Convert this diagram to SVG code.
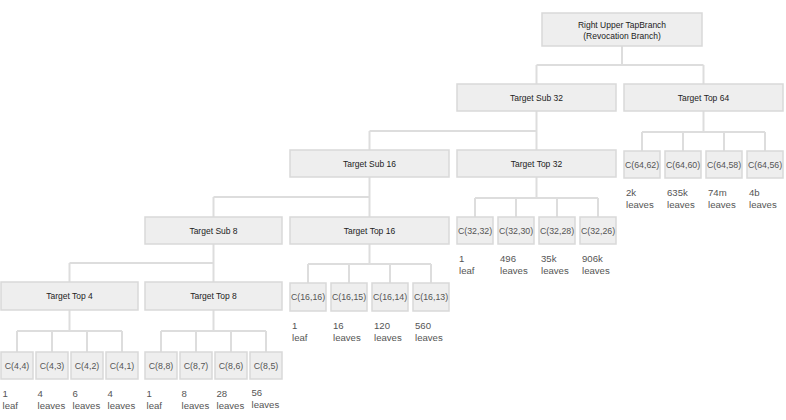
<svg xmlns="http://www.w3.org/2000/svg" width="786" height="420" viewBox="0 0 786 420">
<style>
.n rect{fill:#eeeeee;stroke:#d9d9d9;stroke-width:1.5}
.h{font-family:"Liberation Sans",Arial,sans-serif;font-size:8.5px;fill:#222;text-anchor:middle}
.c{font-family:"Liberation Sans",Arial,sans-serif;font-size:8.8px;fill:#555;text-anchor:middle}
.l{font-family:"Liberation Sans",Arial,sans-serif;font-size:9.6px;fill:#555}
#connectors path{fill:none;stroke:#dddddd;stroke-width:2}
</style>
<rect width="786" height="420" fill="#ffffff"/>
<g id="connectors">
<path d="M622 46V65M536.5 65H703.5M536.5 65V84M703.5 65V84"/>
<path d="M536.5 111V131M369.5 131H536.5M369.5 131V150M536.5 131V150"/>
<path d="M703.5 111V132M642 132H765M642 132V151M683 132V151M724 132V151M765 132V151"/>
<path d="M536.5 177V198M475 198H598M475 198V217M516 198V217M557 198V217M598 198V217"/>
<path d="M369.5 177V197M213.5 197H369.5M213.5 197V217M369.5 197V217"/>
<path d="M369.5 244V264M308 264H431M308 264V283M349 264V283M390 264V283M431 264V283"/>
<path d="M213.5 244V263M69.5 263H213.5M69.5 263V282M213.5 263V282"/>
<path d="M69.5 310V331M17 331H122M17 331V352M52 331V352M87 331V352M122 331V352"/>
<path d="M213.5 310V331M161 331H266M161 331V352M196 331V352M231 331V352M266 331V352"/>
</g>
<g id="root" class="n"><rect x="542" y="13" width="160" height="33"/><text class="h" x="622" y="27.5">Right Upper TapBranch</text><text class="h" x="622" y="38.5">(Revocation Branch)</text></g>
<g id="sub32" class="n"><rect x="457" y="84" width="159" height="27"/><text class="h" x="536.5" y="100.5">Target Sub 32</text></g>
<g id="top64" class="n"><rect x="624" y="84" width="159" height="27"/><text class="h" x="703.5" y="100.5">Target Top 64</text></g>
<g id="sub16" class="n"><rect x="290" y="150" width="159" height="27"/><text class="h" x="369.5" y="166.5">Target Sub 16</text></g>
<g id="top32" class="n"><rect x="457" y="150" width="159" height="27"/><text class="h" x="536.5" y="166.5">Target Top 32</text></g>
<g id="sub8" class="n"><rect x="145" y="217" width="137" height="27"/><text class="h" x="213.5" y="233.5">Target Sub 8</text></g>
<g id="top16" class="n"><rect x="290" y="217" width="159" height="27"/><text class="h" x="369.5" y="233.5">Target Top 16</text></g>
<g id="top4" class="n"><rect x="1" y="282" width="137" height="28"/><text class="h" x="69.5" y="299">Target Top 4</text></g>
<g id="top8" class="n"><rect x="145" y="282" width="137" height="28"/><text class="h" x="213.5" y="299">Target Top 8</text></g>

<g id="c64_62" class="n"><rect x="624" y="151" width="36" height="27"/><text class="c" x="642" y="167.5">C(64,62)</text><text class="l" x="626" y="195.5">2k</text><text class="l" x="626" y="207.5">leaves</text></g>
<g id="c64_60" class="n"><rect x="665" y="151" width="36" height="27"/><text class="c" x="683" y="167.5">C(64,60)</text><text class="l" x="667" y="195.5">635k</text><text class="l" x="667" y="207.5">leaves</text></g>
<g id="c64_58" class="n"><rect x="706" y="151" width="36" height="27"/><text class="c" x="724" y="167.5">C(64,58)</text><text class="l" x="708" y="195.5">74m</text><text class="l" x="708" y="207.5">leaves</text></g>
<g id="c64_56" class="n"><rect x="747" y="151" width="36" height="27"/><text class="c" x="765" y="167.5">C(64,56)</text><text class="l" x="749" y="195.5">4b</text><text class="l" x="749" y="207.5">leaves</text></g>

<g id="c32_32" class="n"><rect x="457" y="217" width="36" height="27"/><text class="c" x="475" y="233.5">C(32,32)</text><text class="l" x="459" y="261.5">1</text><text class="l" x="459" y="273.5">leaf</text></g>
<g id="c32_30" class="n"><rect x="498" y="217" width="36" height="27"/><text class="c" x="516" y="233.5">C(32,30)</text><text class="l" x="500" y="261.5">496</text><text class="l" x="500" y="273.5">leaves</text></g>
<g id="c32_28" class="n"><rect x="539" y="217" width="36" height="27"/><text class="c" x="557" y="233.5">C(32,28)</text><text class="l" x="541" y="261.5">35k</text><text class="l" x="541" y="273.5">leaves</text></g>
<g id="c32_26" class="n"><rect x="580" y="217" width="36" height="27"/><text class="c" x="598" y="233.5">C(32,26)</text><text class="l" x="582" y="261.5">906k</text><text class="l" x="582" y="273.5">leaves</text></g>

<g id="c16_16" class="n"><rect x="290" y="283" width="36" height="28"/><text class="c" x="308" y="300">C(16,16)</text><text class="l" x="292" y="328.5">1</text><text class="l" x="292" y="340.5">leaf</text></g>
<g id="c16_15" class="n"><rect x="331" y="283" width="36" height="28"/><text class="c" x="349" y="300">C(16,15)</text><text class="l" x="333" y="328.5">16</text><text class="l" x="333" y="340.5">leaves</text></g>
<g id="c16_14" class="n"><rect x="372" y="283" width="36" height="28"/><text class="c" x="390" y="300">C(16,14)</text><text class="l" x="374" y="328.5">120</text><text class="l" x="374" y="340.5">leaves</text></g>
<g id="c16_13" class="n"><rect x="413" y="283" width="36" height="28"/><text class="c" x="431" y="300">C(16,13)</text><text class="l" x="415" y="328.5">560</text><text class="l" x="415" y="340.5">leaves</text></g>

<g id="c4_4" class="n"><rect x="1" y="352" width="32" height="27"/><text class="c" x="17" y="368.5">C(4,4)</text><text class="l" x="2.5" y="396.5">1</text><text class="l" x="2.5" y="408.5">leaf</text></g>
<g id="c4_3" class="n"><rect x="36" y="352" width="32" height="27"/><text class="c" x="52" y="368.5">C(4,3)</text><text class="l" x="37.5" y="396.5">4</text><text class="l" x="37.5" y="408.5">leaves</text></g>
<g id="c4_2" class="n"><rect x="71" y="352" width="32" height="27"/><text class="c" x="87" y="368.5">C(4,2)</text><text class="l" x="72.5" y="396.5">6</text><text class="l" x="72.5" y="408.5">leaves</text></g>
<g id="c4_1" class="n"><rect x="106" y="352" width="32" height="27"/><text class="c" x="122" y="368.5">C(4,1)</text><text class="l" x="107.5" y="396.5">4</text><text class="l" x="107.5" y="408.5">leaves</text></g>

<g id="c8_8" class="n"><rect x="145" y="352" width="32" height="27"/><text class="c" x="161" y="368.5">C(8,8)</text><text class="l" x="146.5" y="396.5">1</text><text class="l" x="146.5" y="408.5">leaf</text></g>
<g id="c8_7" class="n"><rect x="180" y="352" width="32" height="27"/><text class="c" x="196" y="368.5">C(8,7)</text><text class="l" x="181.5" y="396.5">8</text><text class="l" x="181.5" y="408.5">leaves</text></g>
<g id="c8_6" class="n"><rect x="215" y="352" width="32" height="27"/><text class="c" x="231" y="368.5">C(8,6)</text><text class="l" x="216.5" y="396.5">28</text><text class="l" x="216.5" y="408.5">leaves</text></g>
<g id="c8_5" class="n"><rect x="250" y="352" width="32" height="27"/><text class="c" x="266" y="368.5">C(8,5)</text><text class="l" x="251.5" y="396">56</text><text class="l" x="251.5" y="408">leaves</text></g>
</svg>
